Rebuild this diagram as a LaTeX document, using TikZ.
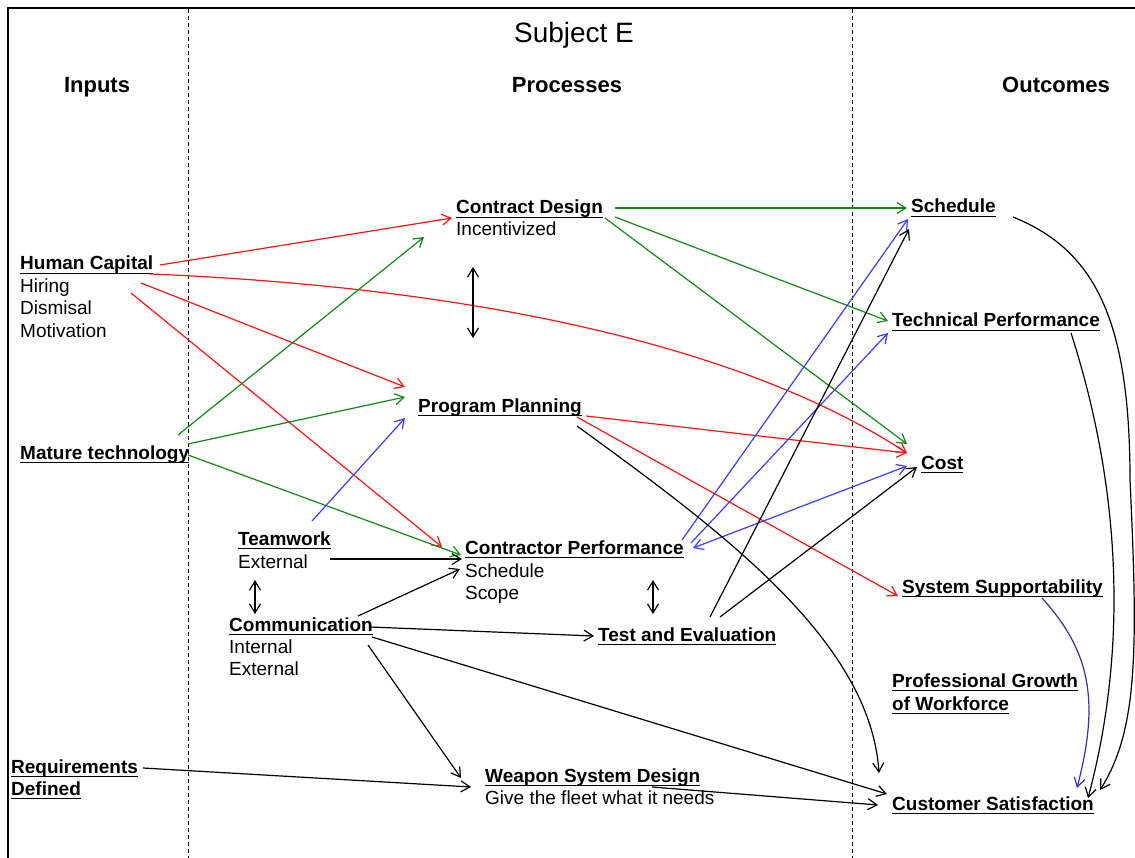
\documentclass[tikz,border=0pt]{standalone}
\usepackage{fontspec}
\setmainfont{Liberation Sans}
\usetikzlibrary{arrows.meta,calc}
\newcommand{\myul}[1]{\setbox0\hbox{#1}\rlap{\rule[-4.4pt]{\wd0}{1.7pt}}\box0}
\definecolor{cred}{RGB}{255,20,20}
\definecolor{cgreen}{RGB}{20,135,20}
\definecolor{cblue}{RGB}{60,60,255}
\definecolor{cnavy}{RGB}{50,50,165}
\begin{document}
\begin{tikzpicture}[x=1pt,y=-1pt,
  ttl/.style={font=\fontsize{19}{22}\selectfont\bfseries, inner sep=0pt, anchor=base west},
  sub/.style={font=\fontsize{19}{22}\selectfont, inner sep=0pt, anchor=base west},
  hdr/.style={font=\fontsize{22}{26}\selectfont\bfseries, inner sep=0pt, anchor=base},
  conn/.style={line width=1.2pt},
  arr/.style={conn, -{Straight Barb[length=9pt,width=11pt]}},
  darr/.style={conn, {Straight Barb[length=9pt,width=11pt]}-{Straight Barb[length=9pt,width=11pt]}},
  sep/.style={line width=0.9pt, dash pattern=on 4pt off 3pt}]
\useasboundingbox (0,0) rectangle (1135,858);
% frame and column separators
\draw[line width=2pt] (8,858) -- (8,8) -- (1135,8);
\draw[sep] (188,9) -- (188,858);
\draw[sep] (852,9) -- (852,858);
% headings
\node[font=\fontsize{28}{32}\selectfont, inner sep=0pt, anchor=base] (title) at (574,43) {Subject E};
\node[hdr] (hin) at (97,93) {Inputs};
\node[hdr] (hpr) at (567,93) {Processes};
\node[hdr] (hout) at (1056,93) {Outcomes};
% inputs
\node[ttl] (hc) at (20,270) {\myul{Human Capital}};
\node[sub] (hc1) at (20,293) {Hiring};
\node[sub] (hc2) at (20,315) {Dismisal};
\node[sub] (hc3) at (20,338) {Motivation};
\node[ttl] (mt) at (20,459) {\myul{Mature technology}};
\node[ttl] (rq) at (11,773) {\myul{Requirements}};
\node[ttl] (rq2) at (11,795) {\myul{Defined}};
% processes
\node[ttl] (cd) at (456,214) {\myul{Contract Design}};
\node[sub] (cd1) at (456,236) {Incentivized};
\node[ttl] (pp) at (418,412) {\myul{Program Planning}};
\node[ttl] (tw) at (238,545) {\myul{Teamwork}};
\node[sub] (tw1) at (238,568) {External};
\node[ttl] (cm) at (229,631) {\myul{Communication}};
\node[sub] (cm1) at (229,653) {Internal};
\node[sub] (cm2) at (229,675) {External};
\node[ttl] (cp) at (465,554) {\myul{Contractor Performance}};
\node[sub] (cp1) at (465,577) {Schedule};
\node[sub] (cp2) at (465,599) {Scope};
\node[ttl] (te) at (598,641) {\myul{Test and Evaluation}};
\node[ttl] (wsd) at (485,782) {\myul{Weapon System Design}};
\node[sub] (wsd1) at (485,804) {Give the fleet what it needs};
% outcomes
\node[ttl] (sch) at (911,213) {\myul{Schedule}};
\node[ttl] (tp) at (892,327) {\myul{Technical Performance}};
\node[ttl] (cost) at (921,469) {\myul{Cost}};
\node[ttl] (ss) at (902,593) {\myul{System Supportability}};
\node[ttl] (pg) at (892,687) {\myul{Professional Growth}};
\node[ttl] (pg2) at (892,710) {\myul{of Workforce}};
\node[ttl] (cs) at (892,810) {\myul{Customer Satisfaction}};
% red connectors
\draw[arr, cred] ($(hc.base west)+(140,-5)$) -- ($(cd.base west)+(-4,4)$);
\draw[arr, cred] ($(hc.base west)+(130,4)$) .. controls +(270,11) and +(-187,-122) .. ($(cost.base west)+(-14,-16)$);
\draw[arr, cred] ($(hc1.base west)+(121,-10)$) -- ($(pp.base west)+(-13,-25)$);
\draw[arr, cred] ($(hc1.base west)+(111,0)$) -- ($(cp.base west)+(-23,-7)$);
\draw[arr, cred] ($(pp.base west)+(168,4)$) -- ($(cost.base west)+(-14,-16)$);
\draw[arr, cred] ($(pp.base west)+(159,5)$) -- ($(ss.base west)+(-4,3)$);
% green connectors
\draw[arr, cgreen] ($(mt.base west)+(158,-24)$) -- ($(cd.base west)+(-32,23)$);
\draw[arr, cgreen] ($(mt.base west)+(168,-15)$) -- ($(pp.base west)+(-13,-15)$);
\draw[arr, cgreen] ($(mt.base west)+(168,-4)$) -- ($(cp.base west)+(-4,1)$);
\draw[arr, cgreen] ($(cd.base west)+(159,-6)$) -- ($(sch.base west)+(-4,-5)$);
\draw[arr, cgreen] ($(cd.base west)+(159,3)$) -- ($(tp.base west)+(-4,-6)$);
\draw[arr, cgreen] ($(cd.base west)+(149,4)$) -- ($(cost.base west)+(-14,-25)$);
% blue connectors
\draw[arr, cblue] ($(tw.base west)+(74,-24)$) -- ($(pp.base west)+(-13,6)$);
\draw[arr, cblue] ($(cp.base west)+(217,-14)$) -- ($(sch.base west)+(-3,6)$);
\draw[arr, cblue] ($(cp.base west)+(226,-11)$) -- ($(tp.base west)+(-4,6)$);
\draw[darr, cblue] ($(cp.base west)+(228,-6)$) -- ($(cost.base west)+(-14,-3)$);
\draw[arr, cnavy] ($(ss.base west)+(140,5)$) .. controls +(48,53) and +(23,-88) .. ($(cs.base west)+(185,-22)$);
% black connectors
\draw[arr] ($(pp.base west)+(159,14)$) .. controls +(143,104) and +(-9,-133) .. ($(cs.base west)+(-13,-37)$);
\draw[arr] ($(te.base west)+(112,-24)$) -- ($(sch.base west)+(-2,16)$);
\draw[arr] ($(te.base west)+(122,-24)$) -- ($(cost.base west)+(-4,-2)$);
\draw[arr] ($(tw1.base west)+(92,-9)$) -- ($(cp.base west)+(-3,5)$);
\draw[arr] ($(cm.base west)+(129,-15)$) -- ($(cp.base west)+(-5,15)$);
\draw[arr] ($(cm.base west)+(141,-4)$) -- ($(te.base west)+(-4,-5)$);
\draw[arr] ($(cm.base west)+(143,6)$) -- ($(cs.base west)+(-5,-16)$);
\draw[arr] ($(cm.base west)+(139,14)$) -- ($(wsd.base west)+(-24,-4)$);
\draw[arr] ($(rq.base west)+(132,-5)$) -- ($(wsd.base west)+(-14,5)$);
\draw[arr] ($(wsd.base west)+(167,5)$) -- ($(cs.base west)+(-14,-5)$);
\draw[arr] ($(sch.base west)+(102,4)$) .. controls +(82,33) and +(0,-160) .. ($(cs.base west)+(238,-330)$)
   .. controls +(8,170) and +(38,-60) .. ($(cs.base west)+(208,-20)$);
\draw[arr] ($(tp.base west)+(179,6)$) .. controls +(54,168) and +(37,-138) .. ($(cs.base west)+(196,-12)$);
% double arrows
\draw[darr] ($(cd.base west)+(17,53)$) -- ($(pp.base west)+(55,-74)$);
\draw[darr] ($(tw1.base west)+(17,12)$) -- ($(cm.base west)+(26,-17)$);
\draw[darr] ($(cp.base west)+(188,26)$) -- ($(te.base west)+(55,-27)$);
\end{tikzpicture}
\end{document}
